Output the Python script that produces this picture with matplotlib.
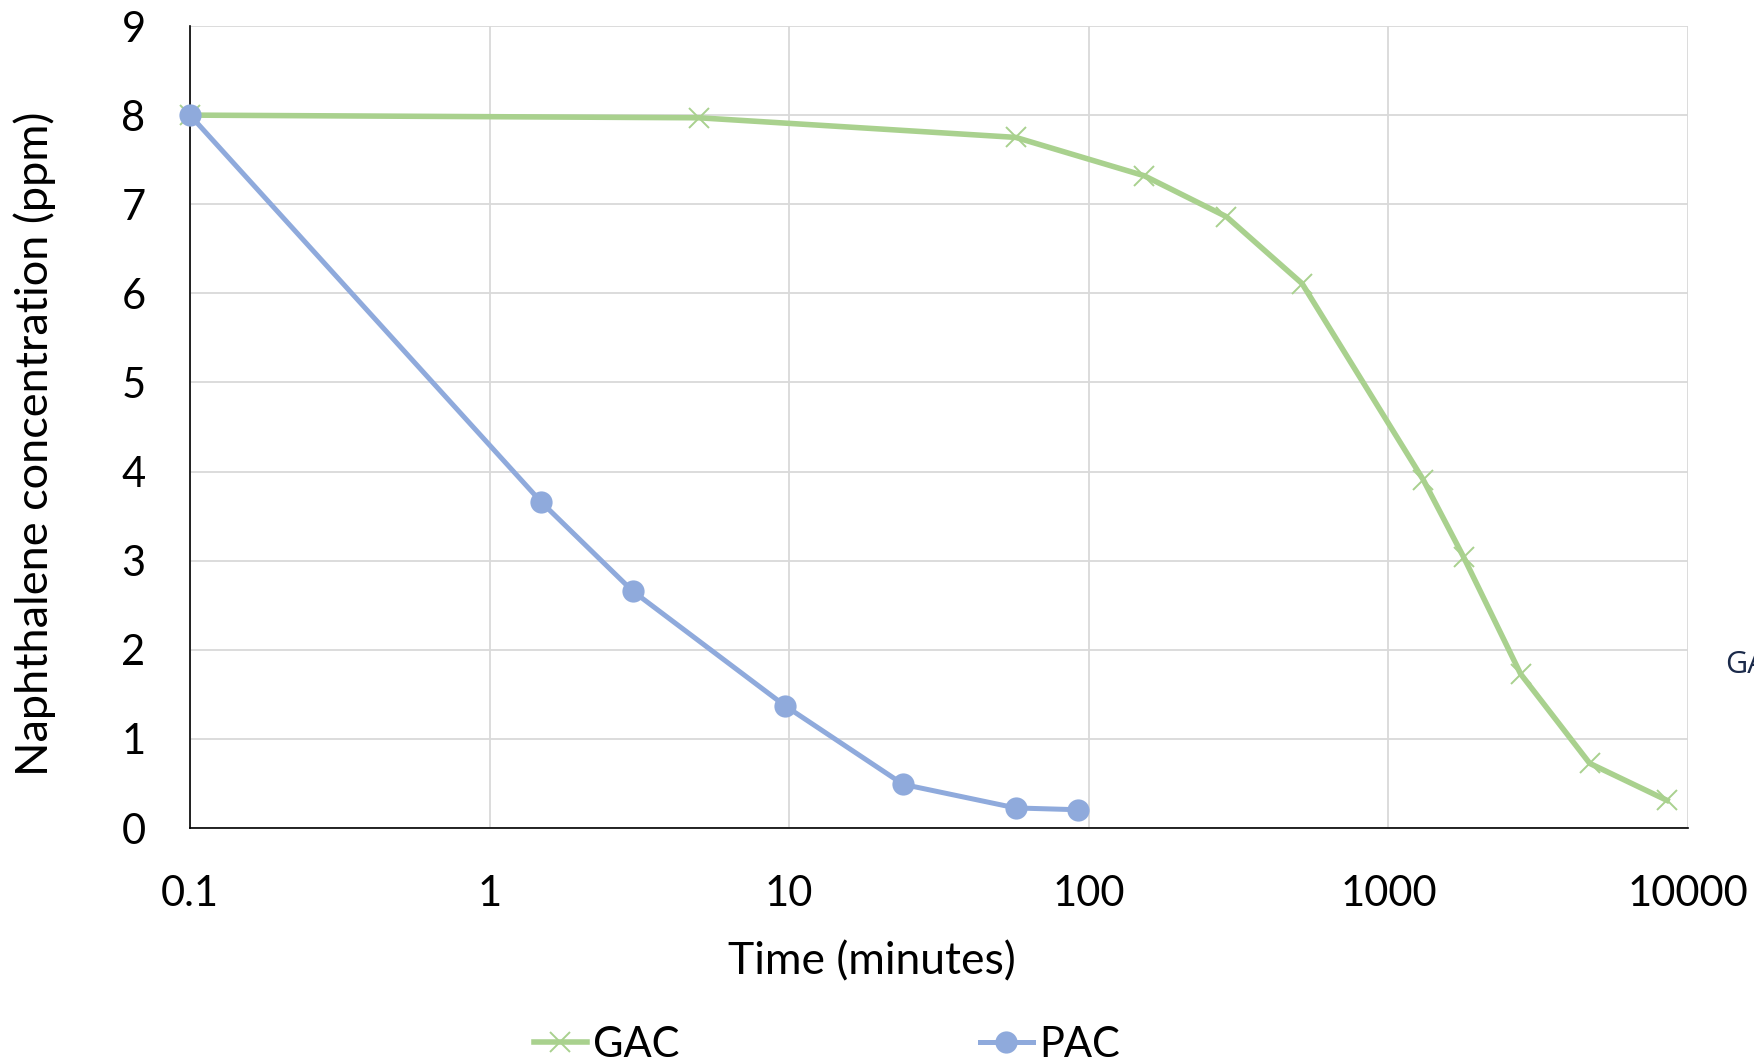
import matplotlib
matplotlib.use("Agg")
import matplotlib.pyplot as plt
from matplotlib.ticker import FixedLocator, FixedFormatter, NullLocator

# ---- data ----
gac_time = [0.1, 5, 57, 153, 288, 515, 1306, 1783, 2761, 4699, 8511]
gac_conc = [8.0, 7.97, 7.75, 7.32, 6.86, 6.11, 3.91, 3.04, 1.73, 0.725, 0.31]

pac_time = [0.1, 1.49, 3.0, 9.7, 24.0, 57, 92]
pac_conc = [8.0, 3.655, 2.66, 1.37, 0.49, 0.225, 0.205]

x_ticks = [0.1, 1, 10, 100, 1000, 10000]
x_ticklabels = ["0.1", "1", "10", "100", "1000", "10000"]
y_ticks = [0, 1, 2, 3, 4, 5, 6, 7, 8, 9]

GAC_COLOR = "#A9D18E"
PAC_COLOR = "#8FAADC"
FONT = "Lato"

plt.rcParams["font.family"] = [FONT, "DejaVu Sans"]

fig = plt.figure(figsize=(17.54, 10.61), dpi=100)
ax = fig.add_axes([190 / 1754, 1 - 828 / 1061, (1688 - 190) / 1754, (828 - 26) / 1061])

ax.set_xscale("log")
ax.set_xlim(0.1, 10000)
ax.set_ylim(0, 9)

ax.xaxis.set_major_locator(FixedLocator(x_ticks))
ax.xaxis.set_major_formatter(FixedFormatter(x_ticklabels))
ax.xaxis.set_minor_locator(NullLocator())
ax.set_yticks(y_ticks)

ax.grid(True, which="major", color="#D9D9D9", linewidth=1.3, zorder=0)
ax.set_axisbelow(True)

for s in ["top", "right"]:
    ax.spines[s].set_visible(False)
for s in ["left", "bottom"]:
    ax.spines[s].set_color("black")
    ax.spines[s].set_linewidth(1.2)

ax.tick_params(axis="both", length=0, labelsize=30, colors="black")
ax.tick_params(axis="x", pad=34)
ax.tick_params(axis="y", pad=32)

l_gac, = ax.plot(gac_time, gac_conc, color=GAC_COLOR, linewidth=4.0, marker="x",
                 markersize=14, markeredgewidth=1.4, clip_on=False, zorder=4, label="GAC")
l_pac, = ax.plot(pac_time, pac_conc, color=PAC_COLOR, linewidth=3.6, marker="o",
                 markersize=16, markeredgewidth=0, clip_on=False, zorder=5, label="PAC")

ax.set_xlabel("Time (minutes)", fontsize=32)
ax.xaxis.set_label_coords(0.455, -0.167)
ax.xaxis.label.set_va("center")

ax.set_ylabel("Naphthalene concentration (ppm)", fontsize=32.5)
ax.yaxis.set_label_coords(-0.104, 0.479)
ax.yaxis.label.set_va("center")

fig.legend(handles=[l_gac, l_pac], labels=["GAC", "PAC"], loc="center left",
           bbox_to_anchor=(534 / 1754, 1 - 1045 / 1061), ncol=2, frameon=False,
           fontsize=30, handlelength=1.27, handletextpad=0.15, columnspacing=7.2,
           borderpad=0, borderaxespad=0)

fig.text(1725 / 1754, 1 - 673 / 1061, "GAC", fontsize=22, color="#1B2A4A",
         family=["Open Sans", "DejaVu Sans"], ha="left", va="baseline")

fig.savefig("out.png", dpi=100)
